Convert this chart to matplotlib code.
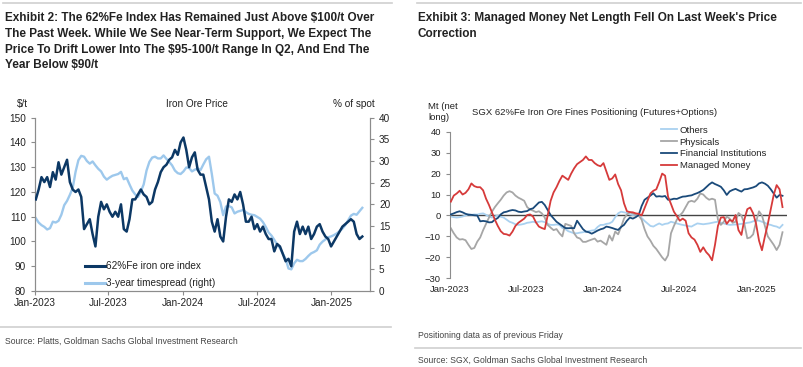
import pandas as pd
import numpy as np
import matplotlib
matplotlib.use('Agg')
import matplotlib.pyplot as plt
from matplotlib.lines import Line2D

plt.rcParams['font.family'] = ['Liberation Sans', 'DejaVu Sans']

# ---- Exhibit 2: iron ore price (weekly readings) ----
price = [117, 121, 126, 124, 126, 122, 128, 125, 132, 127,
         130, 133, 124, 121, 120, 121, 118, 105, 107, 109,
         103, 98, 110, 116, 113, 115, 112, 110, 112, 110,
         115, 105, 104, 109, 117, 117, 119, 121, 119, 118,
         115, 116, 121, 124, 128, 130, 131, 133, 134, 137,
         135, 140, 142, 137, 130, 134, 136, 129, 127, 127,
         122, 117, 108, 104, 109, 102, 100, 110, 117, 116,
         119, 117, 120, 115, 108, 108, 110, 105, 107, 104,
         106, 103, 101, 101, 96, 99, 98, 95, 92, 93,
         90, 104, 108, 103, 106, 103, 106, 101, 103, 106,
         107, 104, 102, 101, 98, 100, 102, 104, 106, 107,
         108, 109, 108, 103, 101, 102]
timespread = [16.8, 15.8, 15.2, 14.8, 14.2, 14.5, 16.0, 15.8, 16.2, 17.6,
              19.8, 20.8, 22.2, 23.8, 27.5, 30.2, 31.2, 31.0, 30.0, 29.4,
              29.9, 29.0, 28.2, 27.6, 26.4, 25.7, 26.2, 26.6, 26.8, 27.0,
              27.5, 25.8, 26.1, 24.6, 23.2, 22.3, 21.7, 23.0, 24.6, 27.8,
              29.8, 30.8, 31.0, 30.6, 30.6, 31.3, 30.5, 29.8, 29.0, 27.8,
              27.2, 27.0, 27.6, 28.5, 28.4, 27.6, 28.0, 28.3, 27.9, 29.2,
              30.4, 31.0, 27.0, 22.5, 22.0, 20.5, 17.5, 19.5, 19.6, 19.3,
              17.9, 18.3, 18.5, 18.7, 18.2, 17.8, 17.6, 17.5, 17.1, 16.7,
              15.9, 14.8, 13.5, 12.8, 11.8, 10.7, 9.9, 8.6, 7.4, 5.2,
              5.0, 6.4, 7.2, 6.9, 6.9, 7.4, 8.1, 8.7, 9.0, 9.4,
              10.7, 11.4, 11.9, 12.4, 12.6, 12.9, 13.3, 13.8, 14.4, 15.2,
              16.3, 17.4, 17.8, 17.6, 18.4, 19.2]
price_dates = pd.date_range('2023-01-03', periods=len(price), freq='7D')

# ---- Exhibit 3: SGX positioning, Mt net long (weekly readings) ----
others = [-0.5, -0.8, -1.0, -0.8, -0.5, 0.0, 0.5, 0.3, 0.5, 0.4,
          0.8, 1.0, 0.3, -0.5, -1.0, -0.5, 0.0, -0.6, -1.0, -2.0,
          -3.0, -3.5, -4.2, -4.5, -4.3, -4.0, -3.5, -3.3, -3.0, -3.3,
          -3.0, -2.8, -3.2, -4.0, -4.5, -4.5, -4.3, -4.5, -6.0, -6.5,
          -7.5, -8.0, -8.5, -8.5, -8.2, -8.0, -7.7, -7.5, -7.2, -7.0,
          -5.5, -4.5, -4.5, -4.0, -3.8, -3.0, -0.8, 1.0, 1.8, 1.5,
          1.2, 0.5, 0.2, 0.3, 0.0, -1.2, -2.6, -3.8, -5.0, -5.3,
          -4.5, -3.8, -4.5, -4.0, -3.8, -3.0, -3.4, -3.8, -4.2, -4.5,
          -4.8, -5.1, -5.3, -4.5, -3.8, -4.0, -4.2, -4.0, -3.8, -3.5,
          -3.2, -3.0, -3.4, -3.8, -4.2, -4.5, -4.4, -4.3, -4.2, -4.0,
          -3.8, -3.5, -3.3, -2.8, -2.2, -2.5, -3.0, -3.5, -4.2, -4.5,
          -5.0, -5.3, -6.0, -4.5]
physicals = [-6.1, -8.5, -10.5, -11.5, -11.3, -11.8, -14.0, -16.0, -15.5, -12.5,
             -10.5, -7.0, -4.0, -1.0, 1.8, 4.0, 5.8, 7.5, 9.5, 11.0,
             11.6, 11.0, 9.5, 8.5, 7.8, 7.0, 4.0, 2.8, 2.3, 1.6,
             2.0, 1.0, -1.0, -4.5, -5.8, -7.0, -6.5, -8.5, -10.0, -4.0,
             -4.5, -5.0, -8.5, -10.5, -11.0, -12.6, -12.6, -12.0, -11.5, -11.0,
             -12.5, -12.0, -13.0, -14.0, -9.5, -12.0, -7.7, -9.0, -5.5, -1.5,
             0.5, 1.5, 1.0, 0.5, 0.0, -2.0, -6.5, -10.0, -12.0, -14.5,
             -16.0, -18.0, -20.0, -21.5, -19.0, -8.5, -5.0, -2.0, 0.0, 1.5,
             4.0, 6.5, 7.0, 6.5, 8.0, 10.5, 10.0, 8.5, 7.5, 8.0,
             7.5, -2.0, -4.5, -3.0, -0.5, -1.5, -3.5, -3.0, 1.2, 0.0,
             -4.0, -10.9, -10.5, -9.0, -3.0, 2.0, 0.0, -5.0, -10.0, -12.0,
             -14.0, -16.5, -14.0, -8.0]
fin_inst = [0.5, 1.0, 1.6, 2.0, 1.5, 0.8, 0.4, 0.3, 0.1, 0.0,
            -2.8, -2.6, -2.8, -3.3, -3.2, -2.0, -1.2, 0.5, 1.5, 1.8,
            2.3, 2.6, 2.4, 1.8, 1.6, 1.9, 2.1, 3.0, 3.4, 4.8,
            6.2, 6.5, 5.0, 2.6, 0.2, -1.4, -3.0, -4.0, -5.0, -6.0,
            -6.1, -6.0, -6.1, -2.5, -4.5, -6.5, -7.7, -8.0, -8.7, -8.0,
            -7.2, -6.6, -6.2, -5.3, -5.6, -6.0, -6.5, -6.9, -5.5, -4.5,
            -2.5, -1.0, -1.5, -0.8, 0.2, 4.5, 7.5, 8.5, 9.5, 10.6,
            9.0, 9.2, 9.0, 9.3, 7.5, 7.6, 8.0, 7.9, 8.5, 9.0,
            9.1, 9.4, 9.6, 10.2, 10.7, 11.4, 12.2, 13.5, 14.8, 15.8,
            15.0, 14.4, 13.7, 12.0, 9.8, 11.5, 12.2, 12.7, 12.0, 11.4,
            12.5, 12.6, 13.0, 13.4, 14.0, 15.3, 15.8, 15.2, 14.2, 12.5,
            10.5, 8.5, 9.8, 9.4]
managed_money = [6.6, 9.5, 10.5, 11.8, 10.0, 10.8, 12.5, 15.3, 14.0, 13.5,
                 13.5, 12.0, 8.0, 5.0, 1.5, -2.0, -5.0, -7.5, -8.8, -9.0,
                 -9.6, -7.7, -5.0, -3.5, -2.5, -1.5, 0.2, 0.5, -0.5, -3.3,
                 -5.3, -6.0, -6.5, 0.0, 7.0, 11.0, 13.5, 16.5, 19.0, 18.0,
                 17.0, 20.0, 22.5, 24.5, 25.5, 26.5, 28.2, 26.5, 26.5, 25.0,
                 24.0, 23.5, 25.0, 21.0, 17.0, 17.7, 19.6, 15.0, 12.0, 5.8,
                 2.0, 1.6, 1.5, 1.0, 0.8, 0.0, 3.5, 7.0, 10.5, 11.8,
                 12.5, 16.0, 20.0, 19.0, 9.0, 5.5, 1.8, -0.3, -2.5, -1.5,
                 -2.5, -8.5, -10.5, -11.5, -14.0, -17.4, -15.2, -17.5, -19.0, -21.4,
                 -14.0, -5.0, -1.0, -0.8, -4.0, -2.1, -2.8, 0.2, -7.0, -9.3,
                 -2.0, 3.0, 3.8, 1.0, -4.0, -12.0, -16.6, -10.0, -4.0, 3.0,
                 9.8, 14.5, 12.5, 4.0]
pos_dates = pd.date_range('2023-01-03', periods=len(managed_money), freq='7D')

tick_dates = pd.to_datetime(['2023-01-01', '2023-07-01', '2024-01-01', '2024-07-01', '2025-01-01'])
tick_labels = ['Jan-2023', 'Jul-2023', 'Jan-2024', 'Jul-2024', 'Jan-2025']

DARK = '#0c3865'
LIGHT = '#9dc8ec'
AXC = '#8c8c8c'
TXT = '#222222'
FS_L = 7.2   # left chart text size
FS_R = 6.8   # right chart text size

W, H = 804, 367
fig = plt.figure(figsize=(W / 100, H / 100), dpi=100)

def px(x0, y0, x1, y1):
    return [x0 / W, 1 - y1 / H, (x1 - x0) / W, (y1 - y0) / H]

def hline(x0, x1, y):
    fig.add_artist(Line2D([x0 / W, x1 / W], [1 - y / H, 1 - y / H], color='#cfcfcf', lw=1.2))

# header / footer rules
hline(3, 392, 3)
hline(417, 801, 3)
hline(0, 391, 327)
hline(415, 801, 348)

fig.text(5 / W, 1 - 12 / H, 'Exhibit 2: The 62%Fe Index Has Remained Just Above $100/t Over\n'
         'The Past Week. While We See Near-Term Support, We Expect The\n'
         'Price To Drift Lower Into The $95-100/t Range In Q2, And End The\n'
         'Year Below $90/t', fontweight='bold', fontsize=8.5,
         va='top', ha='left', color=TXT, linespacing=1.42)
fig.text(418 / W, 1 - 12 / H, "Exhibit 3: Managed Money Net Length Fell On Last Week's Price\nCorrection",
         fontweight='bold', fontsize=8.5, va='top', ha='left', color=TXT, linespacing=1.42)

fig.text(5 / W, 1 - 341 / H, 'Source: Platts, Goldman Sachs Global Investment Research',
         fontsize=6.2, va='center', color='#444444')
fig.text(418 / W, 1 - 335 / H, 'Positioning data as of previous Friday',
         fontsize=6.2, va='center', color='#444444')
fig.text(418 / W, 1 - 360 / H, 'Source: SGX, Goldman Sachs Global Investment Research',
         fontsize=6.2, va='center', color='#444444')

# ---- left chart ----
ax = fig.add_axes(px(35, 117.7, 370, 291))
ax2 = ax.twinx()
ax2.plot(price_dates, timespread, color=LIGHT, lw=1.7, zorder=2)
ax.plot(price_dates, price, color=DARK, lw=1.8, zorder=3)
ax.set_zorder(ax2.get_zorder() + 1)
ax.patch.set_visible(False)

ax.set_ylim(80, 150)
ax.set_yticks(range(80, 151, 10))
ax2.set_ylim(0, 40)
ax2.set_yticks(range(0, 41, 5))
ax.set_xlim(pd.Timestamp('2023-01-01'), pd.Timestamp('2025-04-06'))
ax.set_xticks(tick_dates)
ax.set_xticklabels(tick_labels)

for a in (ax, ax2):
    for s in a.spines.values():
        s.set_color(AXC)
        s.set_linewidth(0.8)
    a.spines['top'].set_visible(False)
    a.tick_params(colors=AXC, labelcolor=TXT, labelsize=FS_L, length=3, width=0.8)
ax.tick_params(axis='x', pad=2)

fig.text(17 / W, 1 - 104 / H, '$/t', fontsize=FS_L, va='center', color=TXT)
fig.text(197 / W, 1 - 104 / H, 'Iron Ore Price', fontsize=FS_L, va='center', ha='center', color=TXT)
fig.text(375 / W, 1 - 104 / H, '% of spot', fontsize=FS_L, va='center', ha='right', color=TXT)

handles = [Line2D([], [], color=DARK, lw=2.2), Line2D([], [], color=LIGHT, lw=2.2)]
fig.legend(handles, ['62%Fe iron ore index', '3-year timespread (right)'],
           loc='upper left', bbox_to_anchor=(80 / W, 1 - 256 / H), frameon=False,
           fontsize=FS_L, handlelength=2.0, handletextpad=0.15, labelspacing=0.7,
           borderpad=0, labelcolor=TXT)

# ---- right chart ----
bx = fig.add_axes(px(450, 131.7, 786.7, 278.3))
bx.axhline(0, color='#444444', lw=1.0, zorder=1)
bx.plot(pos_dates, others, color='#a9d1f0', lw=1.3, label='Others', zorder=2)
bx.plot(pos_dates, physicals, color='#a6a6a6', lw=1.3, label='Physicals', zorder=2)
bx.plot(pos_dates, fin_inst, color='#1a4a7a', lw=1.3, label='Financial Institutions', zorder=3)
bx.plot(pos_dates, managed_money, color='#d63a3a', lw=1.3, label='Managed Money', zorder=4)

bx.set_ylim(-30, 40)
bx.set_yticks(range(-30, 41, 10))
bx.set_xlim(pd.Timestamp('2023-01-01'), pd.Timestamp('2025-03-14'))
bx.set_xticks(tick_dates)
bx.set_xticklabels(tick_labels)
for s in ('top', 'right', 'bottom'):
    bx.spines[s].set_visible(False)
bx.spines['left'].set_color(AXC)
bx.spines['left'].set_linewidth(0.8)
bx.tick_params(axis='y', colors=AXC, labelcolor=TXT, labelsize=FS_R, length=3, width=0.8)
bx.tick_params(axis='x', length=0, labelcolor=TXT, labelsize=FS_R, pad=5)

fig.text(428 / W, 1 - 112 / H, 'Mt (net\nlong)', fontsize=FS_R, va='center', ha='left',
         color=TXT, linespacing=1.25)
fig.text(595 / W, 1 - 112 / H, 'SGX 62%Fe Iron Ore Fines Positioning (Futures+Options)',
         fontsize=FS_R, va='center', ha='center', color=TXT)
bx.legend(loc='upper left', bbox_to_anchor=(656 / W, 1 - 121 / H), bbox_transform=fig.transFigure,
          frameon=False, fontsize=FS_R, handlelength=1.7, handletextpad=0.3, labelspacing=0.3,
          borderpad=0, labelcolor=TXT)

fig.savefig('out.png', dpi=100)
